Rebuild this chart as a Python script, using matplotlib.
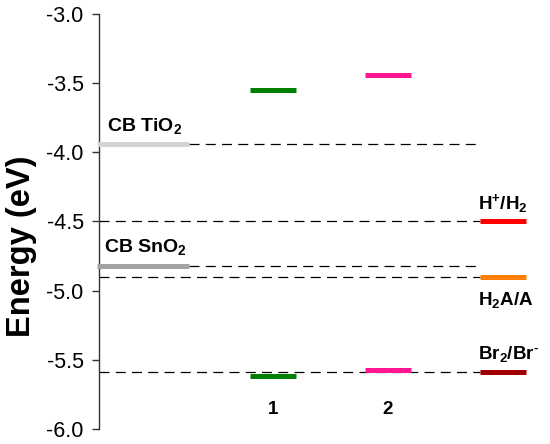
import matplotlib
matplotlib.use("Agg")
import matplotlib.pyplot as plt

plt.rcParams['font.family'] = ['Liberation Sans', 'DejaVu Sans']
plt.rcParams['mathtext.fontset'] = 'custom'
plt.rcParams['mathtext.rm'] = 'Liberation Sans:bold'
plt.rcParams['mathtext.it'] = 'Liberation Sans:bold'
plt.rcParams['mathtext.bf'] = 'Liberation Sans:bold'
plt.rcParams['mathtext.default'] = 'rm'
plt.rcParams['axes.unicode_minus'] = False

# Data (energies in eV)
cb_names = [r"CB TiO$_2$", r"CB SnO$_2$"]
cb_values = [-3.94, -4.82]
cb_colors = ["#d3d3d3", "#a3a3a3"]

dyes = ["1", "2"]
dye_lumo = [-3.55, -3.44]
dye_homo = [-5.62, -5.57]
dye_colors = ["#008000", "#ff1493"]

redox_names = [r"H$^{+}$/H$_2$", r"H$_2$A/A", r"Br$_2$/Br$^{\text{-}}$"]
redox_values = [-4.50, -4.90, -5.59]
redox_colors = ["#ff0000", "#ff8000", "#a00000"]

yticks = [-3.0, -3.5, -4.0, -4.5, -5.0, -5.5, -6.0]

fig = plt.figure(figsize=(5.5, 4.44), dpi=100)
ax = fig.add_axes([0.18, 0.0338, 0.8018, 0.9347])
ax.set_xlim(0, 3.835)
ax.set_ylim(-6.0, -3.0)

lw_bar = 3.6
dash_kw = dict(color='black', lw=0.9, dashes=(8, 5))
x_dash_end = 3.31

# CB levels
for i, (name, v, c) in enumerate(zip(cb_names, cb_values, cb_colors)):
    ax.plot([-0.02, 0.78], [v, v], color=c, lw=lw_bar, solid_capstyle='butt', clip_on=False, zorder=3)
    ax.plot([0.78, x_dash_end], [v, v], **dash_kw)
    ax.text(0.40, v + 0.06, name, ha='center', va='bottom', fontsize=14, fontweight='bold')

# Redox dashed reference lines across the full width
for v in redox_values:
    ax.plot([0, x_dash_end], [v, v], **dash_kw)

# Dye levels
for i, (name, lumo, homo, c) in enumerate(zip(dyes, dye_lumo, dye_homo, dye_colors)):
    xc = 1.51 + i
    ax.plot([xc - 0.2, xc + 0.2], [lumo, lumo], color=c, lw=lw_bar, solid_capstyle='butt', zorder=3)
    ax.plot([xc - 0.2, xc + 0.2], [homo, homo], color=c, lw=lw_bar, solid_capstyle='butt', zorder=3)
    ax.text(xc, -5.86, name, ha='center', va='center', fontsize=13.5, fontweight='bold')

# Redox levels
label_offsets = [0.13, -0.17, 0.13]
for name, v, c, off in zip(redox_names, redox_values, redox_colors, label_offsets):
    ax.plot([3.31, 3.71], [v, v], color=c, lw=lw_bar, solid_capstyle='butt', zorder=3)
    ax.text(3.30, v + off, name, ha='left', va='center', fontsize=13.5, fontweight='bold')

for s in ['top', 'right', 'bottom']:
    ax.spines[s].set_visible(False)
ax.spines['left'].set_color('#333333')
ax.spines['left'].set_linewidth(1.0)
ax.set_xticks([])
ax.set_yticks(yticks)
ax.set_yticklabels([f"{t:.1f}" for t in yticks])
ax.tick_params(axis='y', direction='out', length=5, width=1.0, color='#333333', labelsize=15.5, pad=6)
ax.set_ylabel("Energy (eV)", fontsize=23.5, fontweight='bold')
ax.yaxis.set_label_coords(-0.14, 0.44)

fig.savefig("out.png", dpi=100)
